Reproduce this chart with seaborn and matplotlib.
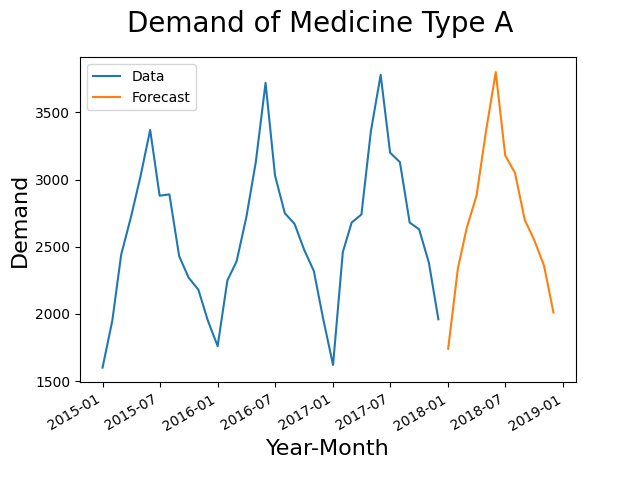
import pandas as pd
import matplotlib.pyplot as plt
import seaborn as sns

data_months = pd.date_range("2015-01-01", periods=36, freq="MS")
data_values = [1600, 1950, 2440, 2720, 3020, 3370, 2880, 2890, 2430, 2270, 2180, 1950,
               1760, 2250, 2390, 2720, 3130, 3720, 3030, 2750, 2670, 2480, 2320, 1960,
               1620, 2460, 2680, 2740, 3360, 3780, 3200, 3130, 2680, 2630, 2380, 1960]

fc_months = pd.date_range("2018-01-01", periods=12, freq="MS")
fc_values = [1740, 2340, 2640, 2880, 3360, 3800, 3180, 3050, 2700, 2550, 2360, 2010]

fig, ax = plt.subplots(figsize=(6.4, 4.78), dpi=100)
sns.lineplot(x=data_months, y=data_values, ax=ax, label="Data", color="#1f77b4")
sns.lineplot(x=fc_months, y=fc_values, ax=ax, label="Forecast", color="#ff7f0e")
fig.suptitle("Demand of Medicine Type A", fontsize=20)
ax.set_xlabel("Year-Month", fontsize=16)
ax.set_ylabel("Demand", fontsize=16)
ax.legend(loc="upper left")
fig.autofmt_xdate()
fig.savefig("out.png")
